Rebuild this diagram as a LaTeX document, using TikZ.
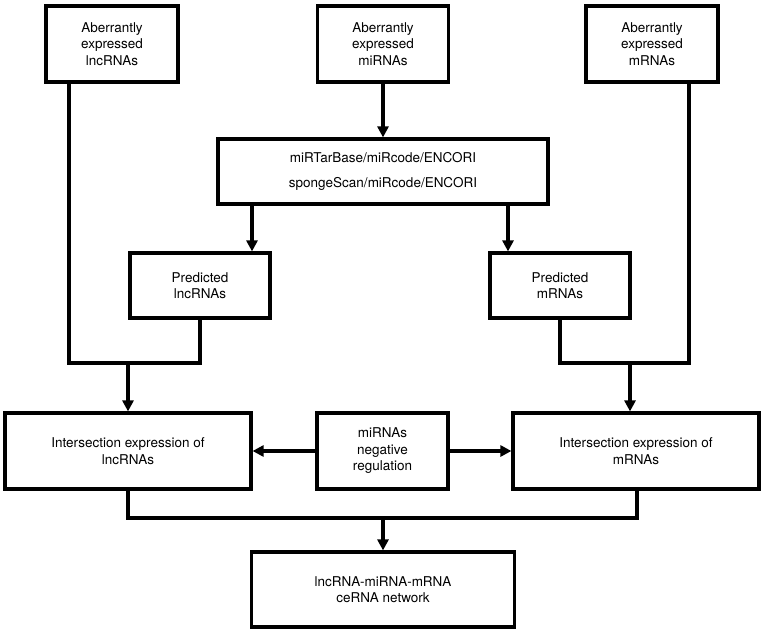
\documentclass[tikz,border=0pt]{standalone}
\usepackage{fontspec}
\setmainfont{TeX Gyre Heros}
\usetikzlibrary{arrows.meta}
\begin{document}
\begin{tikzpicture}[x=1pt,y=-1pt,
  box/.style={draw,line width=3.2pt,align=center,inner sep=2pt,font=\fontsize{13.5}{16.5}\selectfont},
  conn/.style={line width=3.2pt},
  arr/.style={line width=3.2pt,-{Triangle[width=11pt,length=11pt]}}]
\useasboundingbox (0,0) rectangle (765,634);
\node[box,minimum width=132pt,minimum height=76pt] (b1) at (112,44) {Aberrantly\\expressed\\lncRNAs};
\node[box,minimum width=131pt,minimum height=76pt] (b2) at (383,44) {Aberrantly\\expressed\\miRNAs};
\node[box,minimum width=132pt,minimum height=76pt] (b3) at (652,44) {Aberrantly\\expressed\\mRNAs};
\node[box,minimum width=330pt,minimum height=65pt,font=\fontsize{13.5}{25}\selectfont] (b4) at (383,171.5) {miRTarBase/miRcode/ENCORI\\spongeScan/miRcode/ENCORI};
\node[box,minimum width=140pt,minimum height=65pt] (b5) at (200,285.5) {Predicted\\lncRNAs};
\node[box,minimum width=140pt,minimum height=65pt] (b6) at (560,285.5) {Predicted\\mRNAs};
\node[box,minimum width=246pt,minimum height=76pt] (b7) at (128,451) {Intersection expression of\\lncRNAs};
\node[box,minimum width=131pt,minimum height=76pt] (b8) at (382.5,451) {miRNAs\\negative\\regulation};
\node[box,minimum width=246pt,minimum height=76pt] (b9) at (636,451) {Intersection expression of\\mRNAs};
\node[box,minimum width=263pt,minimum height=75pt] (b10) at (383,589.5) {lncRNA-miRNA-mRNA\\ceRNA network};
\coordinate (jl) at (128,363);
\coordinate (jr) at (630,363);
\coordinate (jb) at (383,518);
\draw[arr] (b2.south) -- (b2.south |- b4.north);
\draw[arr] ([xshift=-131pt]b4.south) -- ([xshift=52pt]b5.north);
\draw[arr] ([xshift=125pt]b4.south) -- ([xshift=-52pt]b6.north);
\draw[conn] ([xshift=-43pt]b1.south) |- (jl) -| (b5.south);
\draw[arr] (jl) -- (jl |- b7.north);
\draw[conn] ([xshift=37pt]b3.south) |- (jr) -| (b6.south);
\draw[arr] (jr) -- (jr |- b9.north);
\draw[arr] (b8.west) -- (b8.west -| b7.east);
\draw[arr] (b8.east) -- (b8.east -| b9.west);
\draw[conn] (b7.south) |- (jb) -| ([xshift=1pt]b9.south);
\draw[arr] (jb) -- (jb |- b10.north);
\end{tikzpicture}
\end{document}
